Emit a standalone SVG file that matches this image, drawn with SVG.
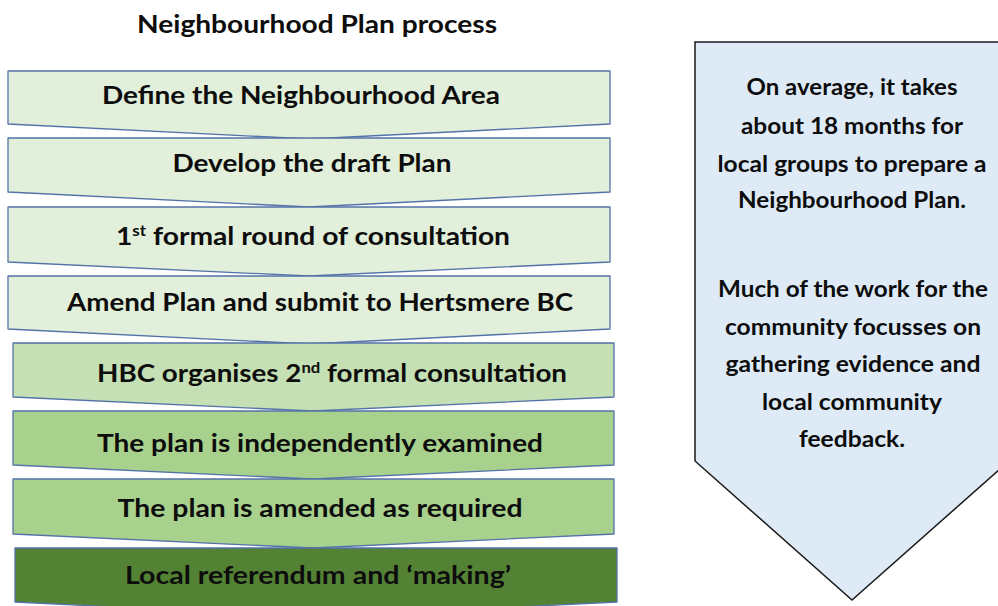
<svg xmlns="http://www.w3.org/2000/svg" width="998" height="606" viewBox="0 0 998 606">
<style>
  text { font-family: Lato, "Open Sans", "Liberation Sans", sans-serif; font-weight: bold; fill: #0d0d0d; text-anchor: middle; }
  .step { stroke: #5372a8; stroke-width: 1.3; stroke-linejoin: round; }
  .l1 { fill: #e2efda; }
  .l2 { fill: #c5e0b4; }
  .l3 { fill: #a9d18e; }
  .l4 { fill: #548235; }
  .st { font-size: 25px; }
  .pt { font-size: 22px; }
  .sup { font-size: 15px; }
</style>
<rect width="998" height="606" fill="#ffffff"/>
<g id="title"><text x="317" y="33" font-size="24" textLength="360" lengthAdjust="spacingAndGlyphs">Neighbourhood Plan process</text></g>
<g id="connectors"></g>
<g id="step1"><path class="step l1" d="M8,71 L610,71 L610,124 L309,139 L8,124 Z"/><text class="st" x="301" y="104" textLength="398" lengthAdjust="spacingAndGlyphs">Define the Neighbourhood Area</text></g>
<g id="step2"><path class="step l1" d="M8,138 L610,138 L610,192 L309,207 L8,192 Z"/><text class="st" x="312" y="172" textLength="279" lengthAdjust="spacingAndGlyphs">Develop the draft Plan</text></g>
<g id="step3"><path class="step l1" d="M8,207 L610,207 L610,262 L309,276 L8,262 Z"/><text class="st" x="313" y="245" textLength="394" lengthAdjust="spacingAndGlyphs">1<tspan class="sup" dy="-9">st</tspan><tspan dy="9"> formal round of consultation</tspan></text></g>
<g id="step4"><path class="step l1" d="M8,276 L610,276 L610,329 L309,344 L8,329 Z"/><text class="st" x="320" y="311" textLength="506" lengthAdjust="spacingAndGlyphs">Amend Plan and submit to Hertsmere BC</text></g>
<g id="step5"><path class="step l2" d="M13,343 L614,343 L614,397 L313,411 L13,397 Z"/><text class="st" x="332" y="382" textLength="470" lengthAdjust="spacingAndGlyphs">HBC organises 2<tspan class="sup" dy="-9">nd</tspan><tspan dy="9"> formal consultation</tspan></text></g>
<g id="step6"><path class="step l3" d="M13,411 L614,411 L614,465 L313,479 L13,465 Z"/><text class="st" x="320" y="452" textLength="446" lengthAdjust="spacingAndGlyphs">The plan is independently examined</text></g>
<g id="step7"><path class="step l3" d="M13,479 L614,479 L614,534 L313,548 L13,534 Z"/><text class="st" x="320" y="517" textLength="405" lengthAdjust="spacingAndGlyphs">The plan is amended as required</text></g>
<g id="step8"><path class="step l4" d="M15,548 L617,548 L617,602 L316,617 L15,602 Z"/><text class="st" x="318" y="584" textLength="386" lengthAdjust="spacingAndGlyphs">Local referendum and ‘making’</text></g>
<g id="note">
  <path d="M695,42 L1009,42 L1009,461 L852,600 L695,461 Z" fill="#deebf7" stroke="#1a1a1a" stroke-width="1.5"/>
  <text class="pt" x="852" y="95" textLength="211" lengthAdjust="spacingAndGlyphs">On average, it takes</text>
  <text class="pt" x="852" y="134" textLength="222" lengthAdjust="spacingAndGlyphs">about 18 months for</text>
  <text class="pt" x="852" y="172" textLength="269" lengthAdjust="spacingAndGlyphs">local groups to prepare a</text>
  <text class="pt" x="852" y="208" textLength="228" lengthAdjust="spacingAndGlyphs">Neighbourhood Plan.</text>
  <text class="pt" x="853" y="297" textLength="270" lengthAdjust="spacingAndGlyphs">Much of the work for the</text>
  <text class="pt" x="853" y="335" textLength="256" lengthAdjust="spacingAndGlyphs">community focusses on</text>
  <text class="pt" x="853" y="372" textLength="255" lengthAdjust="spacingAndGlyphs">gathering evidence and</text>
  <text class="pt" x="852" y="410" textLength="180" lengthAdjust="spacingAndGlyphs">local community</text>
  <text class="pt" x="852" y="447" textLength="106" lengthAdjust="spacingAndGlyphs">feedback.</text>
</g>
</svg>
